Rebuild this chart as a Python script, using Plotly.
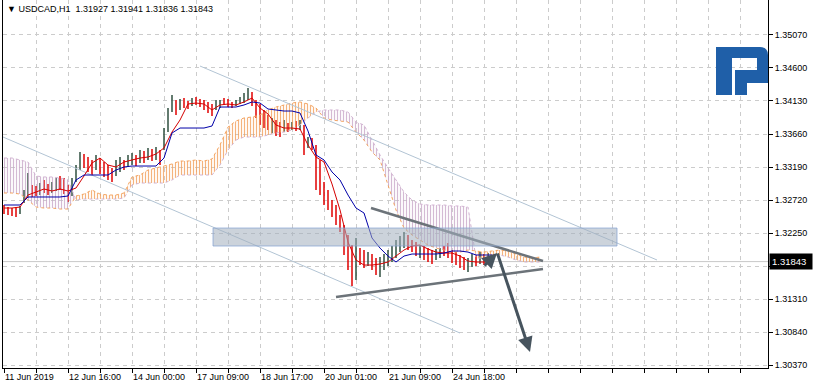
import plotly.graph_objects as go

# ---------------- data ----------------
symbol = "USDCAD,H1"
tick_bars = [0, 32, 64, 96, 128, 160, 192, 224]          # H1 bar index
tick_labels = ["11 Jun 2019", "12 Jun 16:00", "14 Jun 00:00", "17 Jun 09:00",
               "18 Jun 17:00", "20 Jun 01:00", "21 Jun 09:00", "24 Jun 18:00"]
price_ticks = [1.30370, 1.30840, 1.31310, 1.31780, 1.32250, 1.32720,
               1.33190, 1.33660, 1.34130, 1.34600, 1.35070]

candle_bars = list(range(0, 246, 2))    # one candle every 2 H1 bars
line_bars = list(range(0, 245, 4))      # Tenkan / Kijun samples
cloud_bars = list(range(0, 269, 4))     # Senkou spans (shifted 26 bars ahead)

candle_open = [
    1.32620, 1.32592, 1.32578, 1.32592, 1.32550, 1.32706, 1.32777, 1.32919, 1.32891, 1.32820,
    1.32962, 1.32919, 1.32848, 1.32877, 1.33033, 1.32991, 1.32891, 1.32805, 1.33005, 1.33176,
    1.33347, 1.33290, 1.33247, 1.33176, 1.33290, 1.33233, 1.33190, 1.33147, 1.33090, 1.33147,
    1.33275, 1.33218, 1.33247, 1.33332, 1.33275, 1.33389, 1.33318, 1.33418, 1.33318, 1.33404,
    1.33461, 1.33717, 1.34002, 1.34116, 1.34030, 1.34144, 1.34101, 1.34087, 1.34158, 1.34130,
    1.34116, 1.34087, 1.34059, 1.34030, 1.34059, 1.34158, 1.34130, 1.34101, 1.34073, 1.34101,
    1.34130, 1.34172, 1.34244, 1.34116, 1.34059, 1.33973, 1.33902, 1.33703, 1.33831, 1.33802,
    1.33717, 1.33788, 1.33745, 1.33816, 1.33745, 1.33759, 1.33489, 1.33574, 1.33475, 1.32976,
    1.32862, 1.32748, 1.32649, 1.32535, 1.32435, 1.32293, 1.32079, 1.31837, 1.31609, 1.32008,
    1.31937, 1.31809, 1.31922, 1.31837, 1.31666, 1.31780, 1.31823, 1.31880, 1.31937, 1.32022,
    1.32079, 1.32193, 1.32108, 1.32065, 1.31922, 1.32036, 1.32008, 1.31979, 1.31894, 1.31922,
    1.32036, 1.32079, 1.31979, 1.31951, 1.31908, 1.31880, 1.31723, 1.31794, 1.31908, 1.31837,
    1.31922, 1.31851, 1.31927]
candle_high = [
    1.32649, 1.32620, 1.32606, 1.32620, 1.32635, 1.32862, 1.33104, 1.32934, 1.32919, 1.32962,
    1.33005, 1.32948, 1.32976, 1.33033, 1.33062, 1.33033, 1.32934, 1.33033, 1.33218, 1.33404,
    1.33375, 1.33332, 1.33290, 1.33361, 1.33318, 1.33261, 1.33218, 1.33176, 1.33290, 1.33332,
    1.33290, 1.33361, 1.33389, 1.33361, 1.33432, 1.33418, 1.33461, 1.33446, 1.33475, 1.33432,
    1.33745, 1.34030, 1.34215, 1.34144, 1.34158, 1.34172, 1.34130, 1.34172, 1.34187, 1.34158,
    1.34144, 1.34116, 1.34087, 1.34144, 1.34144, 1.34172, 1.34158, 1.34116, 1.34144, 1.34187,
    1.34244, 1.34315, 1.34258, 1.34144, 1.34087, 1.34002, 1.33930, 1.33888, 1.33859, 1.33831,
    1.33859, 1.33816, 1.33831, 1.33845, 1.33859, 1.33788, 1.33617, 1.33603, 1.33503, 1.33290,
    1.32976, 1.32862, 1.32720, 1.32649, 1.32506, 1.32364, 1.32222, 1.32079, 1.32179, 1.32036,
    1.32008, 1.31979, 1.31951, 1.31894, 1.31908, 1.31951, 1.32008, 1.32065, 1.32150, 1.32207,
    1.32264, 1.32222, 1.32150, 1.32122, 1.32079, 1.32065, 1.32036, 1.32008, 1.32022, 1.32036,
    1.32065, 1.32108, 1.32008, 1.31979, 1.31937, 1.31908, 1.31894, 1.31951, 1.31937, 1.31979,
    1.31951, 1.31965, 1.31941]
candle_low = [
    1.32521, 1.32506, 1.32492, 1.32478, 1.32521, 1.32677, 1.32748, 1.32763, 1.32777, 1.32791,
    1.32820, 1.32791, 1.32820, 1.32848, 1.32862, 1.32805, 1.32692, 1.32777, 1.32976, 1.33147,
    1.33176, 1.33119, 1.33076, 1.33147, 1.33090, 1.33048, 1.33005, 1.32976, 1.33062, 1.33119,
    1.33147, 1.33190, 1.33218, 1.33204, 1.33247, 1.33247, 1.33290, 1.33275, 1.33290, 1.33218,
    1.33432, 1.33688, 1.33973, 1.33930, 1.34002, 1.34030, 1.34016, 1.34059, 1.34073, 1.34044,
    1.34002, 1.33959, 1.33916, 1.34002, 1.34030, 1.34073, 1.34044, 1.34030, 1.34059, 1.34087,
    1.34101, 1.34144, 1.34059, 1.33888, 1.33788, 1.33745, 1.33717, 1.33674, 1.33631, 1.33617,
    1.33688, 1.33688, 1.33717, 1.33703, 1.33717, 1.33361, 1.33461, 1.33432, 1.32862, 1.32791,
    1.32649, 1.32578, 1.32478, 1.32364, 1.32264, 1.31937, 1.31723, 1.31496, 1.31581, 1.31794,
    1.31752, 1.31780, 1.31723, 1.31652, 1.31624, 1.31723, 1.31780, 1.31837, 1.31894, 1.31979,
    1.32036, 1.32008, 1.31979, 1.31922, 1.31894, 1.31866, 1.31837, 1.31809, 1.31866, 1.31894,
    1.31922, 1.31894, 1.31823, 1.31794, 1.31752, 1.31723, 1.31695, 1.31766, 1.31780, 1.31809,
    1.31794, 1.31823, 1.31836]
candle_close = [
    1.32550, 1.32535, 1.32521, 1.32506, 1.32606, 1.32834, 1.32948, 1.32805, 1.32805, 1.32934,
    1.32862, 1.32834, 1.32948, 1.33005, 1.32891, 1.32834, 1.32734, 1.33005, 1.33190, 1.33361,
    1.33218, 1.33162, 1.33119, 1.33318, 1.33119, 1.33076, 1.33048, 1.33033, 1.33261, 1.33304,
    1.33176, 1.33332, 1.33361, 1.33233, 1.33404, 1.33275, 1.33432, 1.33304, 1.33446, 1.33261,
    1.33717, 1.34002, 1.34187, 1.33973, 1.34130, 1.34059, 1.34044, 1.34144, 1.34101, 1.34073,
    1.34030, 1.33988, 1.33945, 1.34116, 1.34130, 1.34087, 1.34059, 1.34044, 1.34130, 1.34172,
    1.34229, 1.34286, 1.34087, 1.33916, 1.33831, 1.33774, 1.33745, 1.33859, 1.33660, 1.33646,
    1.33831, 1.33717, 1.33802, 1.33731, 1.33831, 1.33432, 1.33589, 1.33461, 1.32934, 1.32820,
    1.32692, 1.32606, 1.32506, 1.32393, 1.32293, 1.32008, 1.31794, 1.31581, 1.32036, 1.31837,
    1.31794, 1.31937, 1.31766, 1.31695, 1.31880, 1.31922, 1.31979, 1.32036, 1.32122, 1.32179,
    1.32236, 1.32051, 1.32008, 1.31951, 1.32051, 1.31894, 1.31866, 1.31837, 1.31994, 1.32008,
    1.31951, 1.31922, 1.31851, 1.31823, 1.31780, 1.31752, 1.31866, 1.31922, 1.31809, 1.31951,
    1.31823, 1.31937, 1.31843]

tenkan = [
    1.32606, 1.32606, 1.32620, 1.32791, 1.32834, 1.32877, 1.32848, 1.32877, 1.32848, 1.32891,
    1.33062, 1.33247, 1.33318, 1.33218, 1.33190, 1.33261, 1.33290, 1.33318, 1.33332, 1.33375,
    1.33461, 1.33688, 1.33859, 1.34087, 1.34101, 1.34087, 1.34002, 1.34073, 1.34087, 1.34073,
    1.34116, 1.34172, 1.34030, 1.33945, 1.33788, 1.33745, 1.33745, 1.33731, 1.33503, 1.33332,
    1.33261, 1.32948, 1.32578, 1.32122, 1.31866, 1.31794, 1.31794, 1.31809, 1.31837, 1.31922,
    1.32008, 1.32065, 1.32079, 1.32022, 1.31979, 1.31965, 1.31965, 1.31922, 1.31851, 1.31837,
    1.31837, 1.31851]
kijun = [
    1.32649, 1.32649, 1.32649, 1.32763, 1.32763, 1.32763, 1.32763, 1.32763, 1.32777, 1.33005,
    1.33076, 1.33076, 1.33076, 1.33076, 1.33147, 1.33190, 1.33204, 1.33204, 1.33204, 1.33204,
    1.33318, 1.33674, 1.33745, 1.33745, 1.33745, 1.33745, 1.33774, 1.34044, 1.34044, 1.34044,
    1.34073, 1.34116, 1.34101, 1.34016, 1.34002, 1.33987, 1.33987, 1.33959, 1.33703, 1.33361,
    1.33290, 1.33119, 1.33005, 1.32791, 1.32606, 1.32535, 1.32179, 1.32036, 1.31922, 1.31837,
    1.31922, 1.31951, 1.31951, 1.31951, 1.31951, 1.31965, 1.31994, 1.31994, 1.31979, 1.31937,
    1.31937, 1.31937]
senkou_a = [
    1.32820, 1.32820, 1.32805, 1.32720, 1.32620, 1.32606, 1.32606, 1.32592, 1.32592, 1.32777,
    1.32805, 1.32862, 1.32805, 1.32791, 1.32791, 1.32820, 1.33048, 1.33076, 1.33147, 1.33176,
    1.33204, 1.33233, 1.33275, 1.33275, 1.33290, 1.33275, 1.33304, 1.33503, 1.33759, 1.33845,
    1.33888, 1.33902, 1.33930, 1.34002, 1.34044, 1.34073, 1.34101, 1.34116, 1.34087, 1.34030,
    1.33888, 1.33859, 1.33845, 1.33831, 1.33688, 1.33574, 1.33404, 1.33290, 1.32934, 1.32578,
    1.32321, 1.32222, 1.32150, 1.32079, 1.32036, 1.32008, 1.31979, 1.31979, 1.32008, 1.31994,
    1.31979, 1.31994, 1.32008, 1.31994, 1.31951, 1.31908, 1.31894, 1.31908]
senkou_b = [
    1.33318, 1.33318, 1.33290, 1.33261, 1.33062, 1.33048, 1.33048, 1.33033, 1.33005, 1.32720,
    1.32734, 1.32734, 1.32734, 1.32734, 1.32734, 1.32748, 1.32934, 1.32962, 1.32962, 1.32962,
    1.32962, 1.33005, 1.33076, 1.33076, 1.33076, 1.33076, 1.33076, 1.33218, 1.33432, 1.33574,
    1.33617, 1.33617, 1.33617, 1.33646, 1.33674, 1.33688, 1.33717, 1.33788, 1.33888, 1.33973,
    1.34002, 1.34002, 1.34002, 1.33973, 1.33831, 1.33788, 1.33574, 1.33361, 1.33176, 1.33005,
    1.32834, 1.32720, 1.32663, 1.32649, 1.32649, 1.32649, 1.32635, 1.32635, 1.32620, 1.31894,
    1.31894, 1.31922, 1.31937, 1.31908, 1.31866, 1.31837, 1.31837, 1.31837]

# drawn objects (bar index, price)
upper_channel_bars = [98, 326.5]
upper_channel_prices = [1.34628, 1.31866]
lower_channel_bars = [-0.5, 228]
lower_channel_prices = [1.33617, 1.30826]
resistance_bars = [183.5, 269.5]
resistance_prices = [1.32606, 1.31851]
support_bars = [166, 269.5]
support_prices = [1.31339, 1.31737]
zone_bars = [104.5, 306.5]
zone_prices = [1.32065, 1.32321]
arrow_up_bars = [239.5, 246.5]
arrow_up_prices = [1.31766, 1.31965]
arrow_down_bars = [246.5, 263]
arrow_down_prices = [1.31979, 1.30556]

# ---------------- figure ----------------
FONT = "Liberation Sans, Arial, sans-serif"
FS = 9
fig = go.Figure()


def cloud_segments(xs, a, b):
    segs = []
    cur = [(xs[0], a[0], b[0])]
    for i in range(1, len(xs)):
        d0 = a[i - 1] - b[i - 1]
        d1 = a[i] - b[i]
        if (d0 >= 0) != (d1 >= 0):
            t = d0 / (d0 - d1)
            xc = xs[i - 1] + t * (xs[i] - xs[i - 1])
            yc = a[i - 1] + t * (a[i] - a[i - 1])
            cur.append((xc, yc, yc))
            segs.append((d0 >= 0, cur))
            cur = [(xc, yc, yc)]
        cur.append((xs[i], a[i], b[i]))
    segs.append((a[-1] - b[-1] >= 0, cur))
    return segs


for bull, seg in cloud_segments(cloud_bars, senkou_a, senkou_b):
    col = "#f2a05c" if bull else "#c9a9c9"
    sx = [p[0] for p in seg] + [p[0] for p in reversed(seg)]
    sy = [p[1] for p in seg] + [p[2] for p in reversed(seg)]
    fig.add_trace(go.Scatter(
        x=sx, y=sy, mode="lines", line=dict(width=0), fill="toself",
        fillcolor="rgba(0,0,0,0)",
        fillpattern=dict(shape="|", fgcolor=col, bgcolor="rgba(0,0,0,0)",
                         size=3, solidity=0.4, fgopacity=0.8),
        hoverinfo="skip"))

fig.add_trace(go.Scatter(x=cloud_bars, y=senkou_b, mode="lines",
                         line=dict(color="#d2b4d2", width=1, dash="dot"), hoverinfo="skip"))
fig.add_trace(go.Scatter(x=cloud_bars, y=senkou_a, mode="lines",
                         line=dict(color="#f4a460", width=1, dash="dot"), hoverinfo="skip"))

for bx, py in [(upper_channel_bars, upper_channel_prices), (lower_channel_bars, lower_channel_prices)]:
    fig.add_trace(go.Scatter(x=bx, y=py, mode="lines",
                             line=dict(color="#b2c4d4", width=1), hoverinfo="skip"))

fig.add_trace(go.Ohlc(
    x=candle_bars, open=candle_open, high=candle_high, low=candle_low, close=candle_close,
    tickwidth=0,
    increasing=dict(line=dict(color="#2f4f3f", width=1.5)),
    decreasing=dict(line=dict(color="#e00000", width=1.5)),
    hoverinfo="skip"))

fig.add_trace(go.Scatter(x=line_bars, y=tenkan, mode="lines",
                         line=dict(color="#d40000", width=1), hoverinfo="skip"))
fig.add_trace(go.Scatter(x=line_bars, y=kijun, mode="lines",
                         line=dict(color="#0000a8", width=1), hoverinfo="skip"))

for bx, py in [(resistance_bars, resistance_prices), (support_bars, support_prices)]:
    fig.add_trace(go.Scatter(x=bx, y=py, mode="lines",
                             line=dict(color="#6c7379", width=2.5), hoverinfo="skip"))

last_o, last_h, last_l, last_c = candle_open[-1], candle_high[-1], candle_low[-1], candle_close[-1]

shapes = [
    dict(type="line", xref="paper", x0=0, x1=1, yref="y", y0=last_c, y1=last_c,
         line=dict(color="#c8c8c8", width=1), layer="below"),
    dict(type="rect", xref="x", yref="y", x0=zone_bars[0], x1=zone_bars[1],
         y0=zone_prices[0], y1=zone_prices[1],
         fillcolor="rgba(162,174,190,0.55)", line=dict(color="rgba(130,160,210,0.7)", width=1),
         layer="above"),
]


def P(xp, yp):
    return f"{(xp - 3) / 765:.5f},{1 - yp / 368:.5f}"


logo_path = (f"M{P(716,47)} L{P(760,47)} Q{P(768,47)} {P(768,55)} L{P(768,83)} "
             f"L{P(747,83)} L{P(747,95)} L{P(735,95)} L{P(735,70)} L{P(757,70)} "
             f"L{P(757,58)} L{P(732,58)} L{P(732,95)} L{P(716,95)} Z")
shapes.append(dict(type="path", xref="paper", yref="paper", path=logo_path,
                   fillcolor="#1f5fa8", line=dict(width=0), layer="above"))

# the price marker box hides the 1.31780 label, as in the terminal
tick_text = ["" if abs(v - 1.31780) < 1e-9 else f"{v:.5f}" for v in price_ticks]

annotations = [
    dict(xref="paper", yref="paper", x=0, y=1, xanchor="left", yanchor="top",
         xshift=2, yshift=-2, showarrow=False,
         text=f"\u25bc {symbol}  {last_o:.5f} {last_h:.5f} {last_l:.5f} {last_c:.5f}",
         font=dict(family=FONT, size=FS, color="black")),
    dict(xref="paper", yref="y", x=1, y=last_c, xanchor="left", yanchor="middle",
         xshift=1, showarrow=False, text=f"{last_c:.5f}", bgcolor="black",
         borderpad=2, width=38, align="left",
         font=dict(family=FONT, size=FS + 0.5, color="white")),
]
for bx, py in [(arrow_up_bars, arrow_up_prices), (arrow_down_bars, arrow_down_prices)]:
    annotations.append(dict(
        xref="x", yref="y", axref="x", ayref="y",
        x=bx[1], y=py[1], ax=bx[0], ay=py[0], text="", showarrow=True,
        arrowhead=2, arrowsize=1, arrowwidth=3, arrowcolor="#47545e", standoff=0))

grid = dict(showgrid=True, gridcolor="#cccccc", gridwidth=1, griddash="4px,4px")

fig.update_layout(
    width=816, height=384, margin=dict(l=3, r=48, t=0, b=16),
    paper_bgcolor="white", plot_bgcolor="white", showlegend=False,
    font=dict(family=FONT, size=FS, color="black"),
    shapes=shapes, annotations=annotations,
    xaxis=dict(range=[-0.5, 382], tickmode="array", tickvals=tick_bars, ticktext=tick_labels,
               ticks="outside", ticklen=4, tickcolor="black", ticklabelposition="outside right",
               minor=dict(tick0=0, dtick=16, ticks="outside", ticklen=4, tickcolor="black", **grid),
               showline=True, linecolor="black", linewidth=1, zeroline=False,
               rangeslider=dict(visible=False), fixedrange=True,
               tickfont=dict(family=FONT, size=FS, color="black"), **grid),
    yaxis=dict(range=[1.30328, 1.35568], side="right", tickmode="array",
               tickvals=price_ticks, ticktext=tick_text,
               ticks="outside", ticklen=4, tickcolor="black",
               showline=True, mirror=True, linecolor="black", linewidth=1, zeroline=False,
               fixedrange=True, tickfont=dict(family=FONT, size=FS, color="black"), **grid),
)

fig.write_html("out.html", config={"displayModeBar": False},
               post_script="document.body.style.margin='0';document.body.style.padding='0';")
